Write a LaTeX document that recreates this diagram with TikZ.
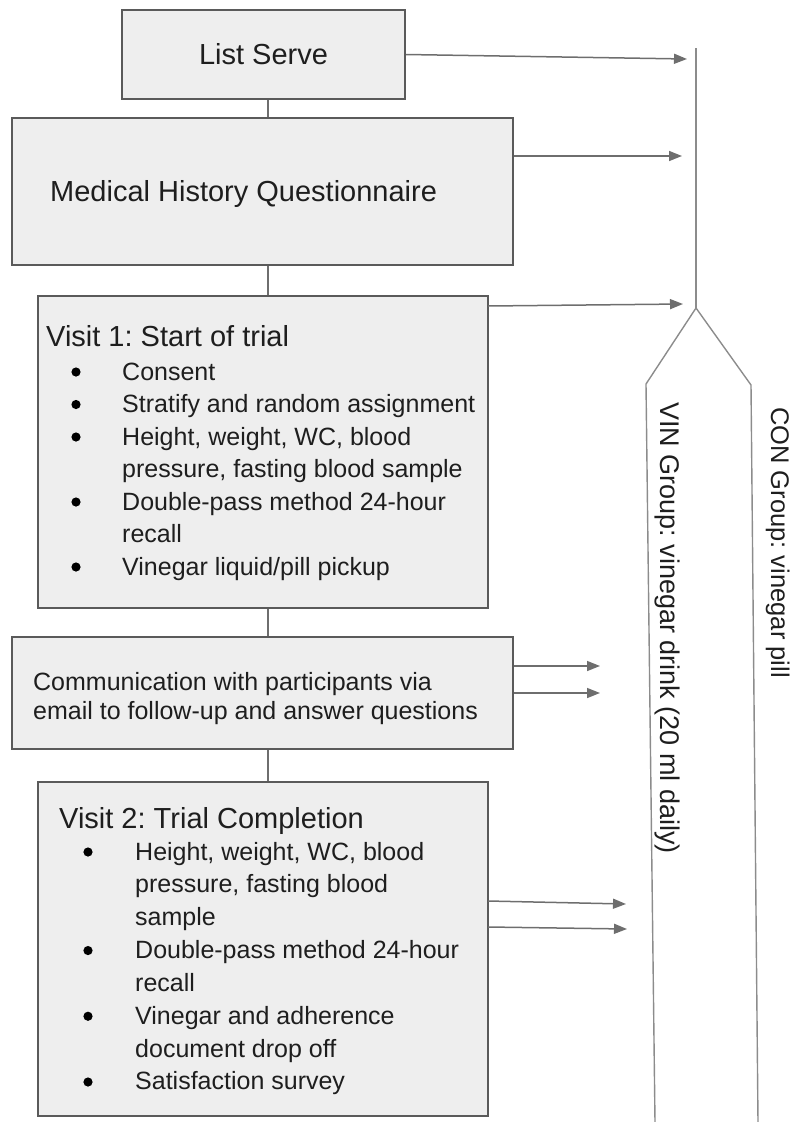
\documentclass[tikz,border=0pt]{standalone}
\usepackage{fontspec}
\setmainfont{Liberation Sans}
\frenchspacing
\usetikzlibrary{arrows.meta,calc}
\definecolor{boxfill}{HTML}{EEEEEE}
\definecolor{boxline}{HTML}{5A5A5A}
\definecolor{connline}{HTML}{6E6E6E}
\definecolor{grpline}{HTML}{8C8C8C}
\definecolor{txtcol}{HTML}{1E1E1E}
\begin{document}
\frenchspacing
\begin{tikzpicture}[x=1pt,y=-1pt,
  box/.style={draw=boxline, fill=boxfill, line width=2pt, inner sep=0pt, text=txtcol},
  txt/.style={inner sep=0pt, text=txtcol, align=left},
  hdr/.style={font=\fontsize{29}{34}\selectfont},
  body/.style={font=\fontsize{25}{29}\selectfont},
  conn/.style={draw=connline, line width=1.5pt},
  arr/.style={draw=connline, line width=1.5pt, -{Triangle[length=13pt,width=10pt]}},
  grp/.style={draw=grpline, line width=1.4pt},
  bul/.style={fill=black}
]
\useasboundingbox (0,0) rectangle (795,1122);

% boxes
\node[box, hdr, minimum width=283pt, minimum height=89pt] (ls) at (263.5,54.5) {List Serve};
\node[box, minimum width=501pt, minimum height=147pt] (mh) at (262.5,191.5) {};
\node[box, minimum width=450pt, minimum height=312pt] (v1) at (263,452) {};
\node[box, minimum width=501pt, minimum height=112pt] (cm) at (262.5,693) {};
\node[box, minimum width=450pt, minimum height=334pt] (v2) at (263,949) {};

% texts
\node[txt, hdr, anchor=base west] (mht) at (50,201) {Medical History Questionnaire};

\node[txt, hdr, anchor=base west] (v1h) at (46,346) {Visit 1: Start of trial};
\node[txt, anchor=base west, font=\fontsize{25}{32.5}\selectfont] (v1b) at (122,380) {%
\begin{tabular}[t]{@{}l@{}}Consent\\Stratify and random assignment\\Height, weight, WC, blood\\pressure, fasting blood sample\\Double-pass method 24-hour\\recall\\Vinegar liquid/pill pickup\end{tabular}};
\foreach \yy in {380,412.5,445,510,575} \fill[bul] (76,\yy-8) circle (4.6pt);

\node[txt, body, anchor=base west] (cmt) at (33,690) {%
\begin{tabular}[t]{@{}l@{}}Communication with participants via\\email to follow-up and answer questions\end{tabular}};

\node[txt, hdr, anchor=base west] (v2h) at (59,828) {Visit 2: Trial Completion};
\node[txt, anchor=base west, font=\fontsize{25}{32.85}\selectfont] (v2b) at (135,860) {%
\begin{tabular}[t]{@{}l@{}}Height, weight, WC, blood\\pressure, fasting blood\\sample\\Double-pass method 24-hour\\recall\\Vinegar and adherence\\document drop off\\Satisfaction survey\end{tabular}};
\foreach \yy in {860,958.55,1024.25,1090} \fill[bul] (88,\yy-8) circle (4.6pt);

% vertical connectors between boxes
\coordinate (cx) at (268,0);
\draw[conn] (ls.south -| cx) -- (mh.north -| cx);
\draw[conn] (mh.south -| cx) -- (v1.north -| cx);
\draw[conn] (v1.south -| cx) -- (cm.north -| cx);
\draw[conn] (cm.south -| cx) -- (v2.north -| cx);

% arrow ends
\coordinate (e1) at (687,59);
\coordinate (e2) at (682,156);
\coordinate (s3) at (488,306);
\coordinate (e3) at (683,304);
\coordinate (e4) at (600,666);
\coordinate (e5) at (600,693);
\coordinate (s6) at (488,901);
\coordinate (e6) at (626,904);
\coordinate (s7) at (488,927);
\coordinate (e7) at (627,929);

\draw[arr] (ls.east) -- (e1);
\draw[arr] (mh.east |- e2) -- (e2);
\draw[arr] (s3) -- (e3);
\draw[arr] (cm.east |- e4) -- (e4);
\draw[arr] (cm.east |- e5) -- (e5);
\draw[arr] (s6) -- (e6);
\draw[arr] (s7) -- (e7);

% group split
\coordinate (gt) at (696,48);
\coordinate (gs) at (696,308);
\coordinate (gl) at (646,384);
\coordinate (gr) at (751,385);
\coordinate (glb) at (655,1122);
\coordinate (grb) at (758,1122);
\draw[grp] (gt) -- (gs);
\draw[grp, line join=miter] (glb) -- (gl) -- (gs) -- (gr) -- (grb);

\node[txt, rotate=-90, anchor=base west, font=\fontsize{27}{32}\selectfont] (vin) at (660,402) {VIN Group: vinegar drink (20 ml daily)};
\node[txt, rotate=-90, anchor=base west, font=\fontsize{25.5}{30}\selectfont] (con) at (771,407) {CON Group: vinegar pill};
\end{tikzpicture}
\end{document}
